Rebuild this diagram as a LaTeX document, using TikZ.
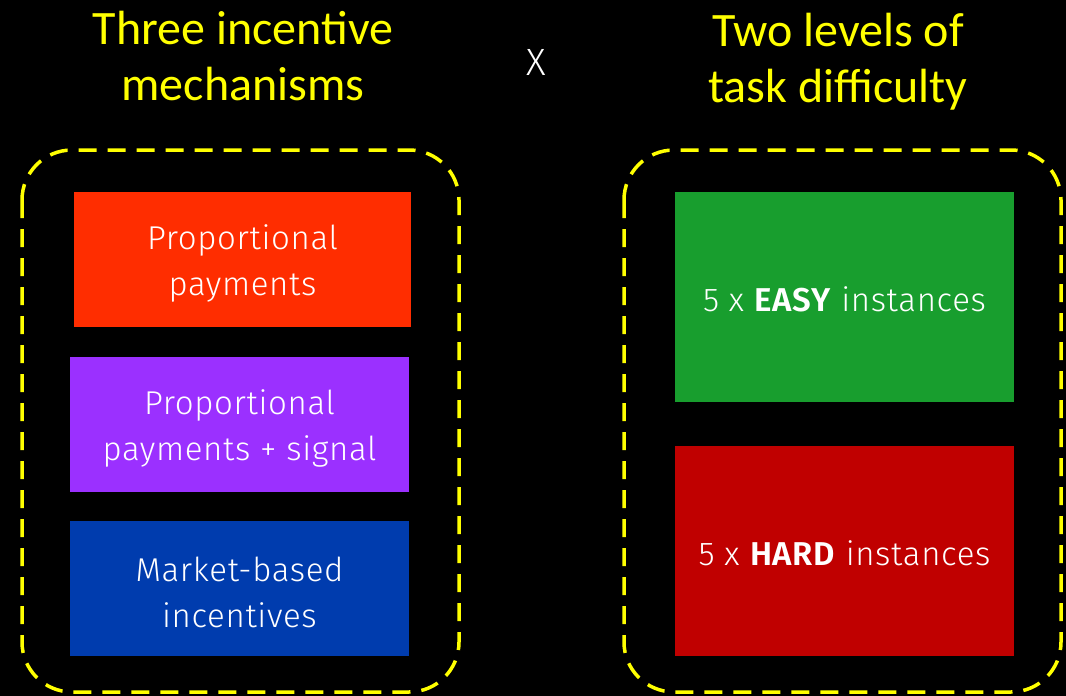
\documentclass[tikz,border=0pt]{standalone}
\usepackage{fontspec}
\setmainfont{Carlito}
\newfontfamily\boxfont{Fira Sans}[UprightFont={* Light},BoldFont={* SemiBold},LetterSpace=2]
\newfontfamily\xfont{Fira Sans}[UprightFont={* Light}]
\usetikzlibrary{positioning}
\definecolor{cyel}{HTML}{FFFF00}
\definecolor{cred}{HTML}{FF2D00}
\definecolor{cpur}{HTML}{9B30FF}
\definecolor{cblu}{HTML}{003CAE}
\definecolor{cgrn}{HTML}{189E2E}
\definecolor{cdrd}{HTML}{C00000}
\tikzset{
  title/.style={text=cyel, font=\fontsize{48}{56}\selectfont, align=center, inner sep=0pt},
  group/.style={draw=cyel, line width=3.5pt, dash pattern=on 18pt off 11pt, rounded corners=50pt},
  cbox/.style={inner sep=0pt, text=white, font=\boxfont\fontsize{33}{46}\selectfont, align=center},
}
\begin{document}
\begin{tikzpicture}[x=1pt,y=-1pt]
\fill[black] (0,0) rectangle (1066,696);
\useasboundingbox (0,0) rectangle (1066,696);
\node[title] (t1) at (243,56) {Three incentive\\mechanisms};
\node[title] (t2) at (838,62) {Two levels of\\task difficulty};
\node[text=white, font=\xfont\fontsize{38}{40}\selectfont, inner sep=0pt] (x) at (536,62) {X};
\draw[group] (22,150) rectangle (459,692);
\draw[group] (624,150) rectangle (1061,692);
\fill[cred] (74,192) rectangle (411,327);
\node[cbox] (b1) at (242.5,263) {Proportional\\payments};
\fill[cpur] (70,357) rectangle (409,492);
\node[cbox] (b2) at (239.5,428) {Proportional\\payments + signal};
\fill[cblu] (70,521) rectangle (409,656);
\node[cbox] (b3) at (239.5,592) {Market-based\\incentives};
\fill[cgrn] (675,192) rectangle (1014,402);
\node[cbox] (b4) at (844.5,299) {5 x \textbf{EASY} instances};
\fill[cdrd] (675,446) rectangle (1014,656);
\node[cbox] (b5) at (844.5,553) {5 x \textbf{HARD} instances};
\end{tikzpicture}
\end{document}
